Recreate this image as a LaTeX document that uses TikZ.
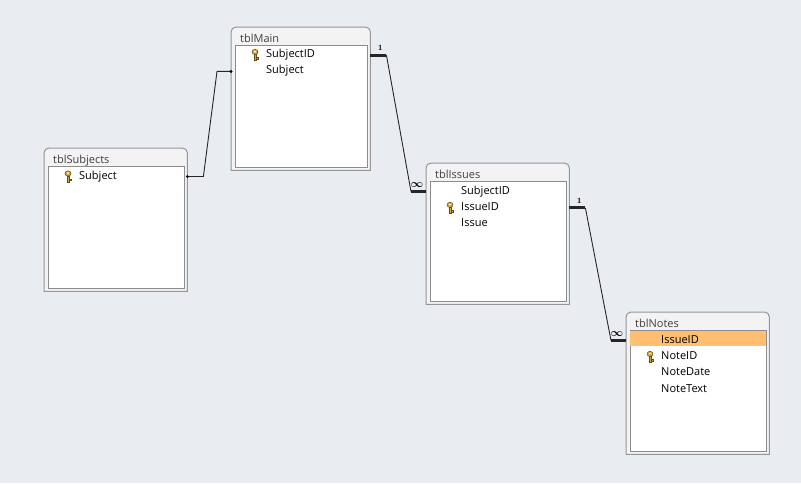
\documentclass[tikz,border=0pt]{standalone}
\usepackage{fontspec}
\setmainfont{Open Sans}
\usetikzlibrary{positioning,calc}

\definecolor{bgcol}{RGB}{233,237,241}
\definecolor{framecol}{RGB}{150,150,150}
\definecolor{framefill}{RGB}{243,243,243}
\definecolor{bodycol}{RGB}{140,140,140}
\definecolor{rowhl}{RGB}{255,190,112}
\definecolor{keygold}{RGB}{212,168,58}

\tikzset{
  tblframe/.style={inner sep=0pt, minimum width=143pt, minimum height=143pt, anchor=north west},
  tblborder/.style={draw=framecol, fill=framefill, line width=1pt},
  tblbody/.style={draw=bodycol, fill=white, line width=0.8pt},
  tbltitle/.style={anchor=base west, inner sep=0pt, text=black!75, font=\fontsize{11}{13}\selectfont},
  field/.style={inner sep=0pt, text height=8pt, text depth=3pt, text=black, font=\fontsize{11}{13}\selectfont},
  rel/.style={line width=0.9pt, black!85},
  card/.style={line width=3pt, black!85},
  cardlbl/.style={inner sep=0pt, font=\fontsize{8}{8}\selectfont\boldmath},
  manylbl/.style={inner sep=0pt, font=\fontsize{11}{11}\selectfont\boldmath},
  keyicon/.pic={
    \filldraw[fill=keygold, draw=keygold!45!black, line width=0.5pt] (0,-3) ellipse (3 and 2.6);
    \fill[white] (0,-3.4) circle (0.9);
    \filldraw[fill=keygold, draw=keygold!45!black, line width=0.5pt] (-1.1,-0.6) rectangle (1.1,5.5);
    \filldraw[fill=keygold, draw=keygold!45!black, line width=0.5pt] (1.1,2.4) rectangle (2.9,4);
  }
}

% frame with round top corners, title and white body
\newcommand\tblbox[2]{%
  \filldraw[tblborder] (#1.south west) [rounded corners=5pt] -- (#1.north west) -- (#1.north east) [sharp corners] -- (#1.south east) -- cycle;
  \node[tbltitle] (#1-title) at ([shift={(9,15)}]#1.north west) {#2};
  \filldraw[tblbody] ([shift={(4,18)}]#1.north west) rectangle ([shift={(-3,-3)}]#1.south east);
}

\begin{document}
\begin{tikzpicture}[x=1pt, y=-1pt]
  \useasboundingbox[fill=bgcol] (0,0) rectangle (801,483);

  % tables
  \node[tblframe]                    (subjT)  at (44,148) {};
  \node[tblframe, minimum width=139pt] (mainT) at (231,27) {};
  \node[tblframe, minimum height=141pt] (issT) at (426,163) {};
  \node[tblframe, minimum height=142pt] (noteT) at (626,312) {};

  \tblbox{subjT}{tblSubjects}
  \tblbox{mainT}{tblMain}
  \tblbox{issT}{tblIssues}
  \tblbox{noteT}{tblNotes}

  \fill[rowhl] ([shift={(4,19)}]noteT.north west) rectangle ([shift={(-3,34)}]noteT.north east);

  % fields
  \node[field, anchor=base west] (sSubject) at ([shift={(35,31)}]subjT.north west) {Subject};

  \node[field, anchor=base west] (mSubjectID) at ([shift={(35,30.5)}]mainT.north west) {SubjectID};
  \node[field, below=5pt of mSubjectID.south west, anchor=north west] (mSubject) {Subject};

  \node[field, anchor=base west] (iSubjectID) at ([shift={(35,31)}]issT.north west) {SubjectID};
  \node[field, below=5pt of iSubjectID.south west, anchor=north west] (iIssueID) {IssueID};
  \node[field, below=5pt of iIssueID.south west, anchor=north west]   (iIssue) {Issue};

  \node[field, anchor=base west] (nIssueID) at ([shift={(35,31)}]noteT.north west) {IssueID};
  \node[field, below=5pt of nIssueID.south west, anchor=north west]  (nNoteID) {NoteID};
  \node[field, below=5pt of nNoteID.south west, anchor=north west]   (nNoteDate) {NoteDate};
  \node[field, below=5pt of nNoteDate.south west, anchor=north west] (nNoteText) {NoteText};

  % primary keys
  \pic at ([xshift=-11pt]sSubject.west)   {keyicon};
  \pic at ([xshift=-11pt]mSubjectID.west) {keyicon};
  \pic at ([xshift=-11pt]iIssueID.west)   {keyicon};
  \pic at ([xshift=-11pt]nNoteID.west)    {keyicon};

  % relationships
  \coordinate (s1) at ($(subjT.east |- sSubject)+(16,0)$);
  \coordinate (m0) at ($(mainT.west |- mSubject)+(-14,0)$);
  \draw[rel] (subjT.east |- sSubject) -- (s1) -- (m0) -- (mainT.west |- mSubject);
  \fill (subjT.east |- sSubject) circle (1.6);
  \fill (mainT.west |- mSubject) circle (1.6);

  \coordinate (m1) at ($(mainT.east |- mSubjectID)+(16,0)$);
  \coordinate (i0) at ($(issT.west |- iSubjectID)+(-15,0)$);
  \draw[rel] (m1) -- (i0);
  \draw[card] (mainT.east |- mSubjectID) -- (m1);
  \draw[card] (issT.west |- iSubjectID) -- (i0);
  \node[cardlbl] (one1) at ($(mainT.east |- mSubjectID)+(10,-7)$) {$\mathbf{1}$};
  \node[manylbl] (many1) at ($(issT.west |- iSubjectID)+(-9,-6)$) {$\infty$};

  \coordinate (i1) at ($(issT.east |- iIssueID)+(16,0)$);
  \coordinate (n0) at ($(noteT.west |- nIssueID)+(-15,0)$);
  \draw[rel] (i1) -- (n0);
  \draw[card] (issT.east |- iIssueID) -- (i1);
  \draw[card] (noteT.west |- nIssueID) -- (n0);
  \node[cardlbl] (one2) at ($(issT.east |- iIssueID)+(10,-7)$) {$\mathbf{1}$};
  \node[manylbl] (many2) at ($(noteT.west |- nIssueID)+(-9,-6)$) {$\infty$};
\end{tikzpicture}
\end{document}
